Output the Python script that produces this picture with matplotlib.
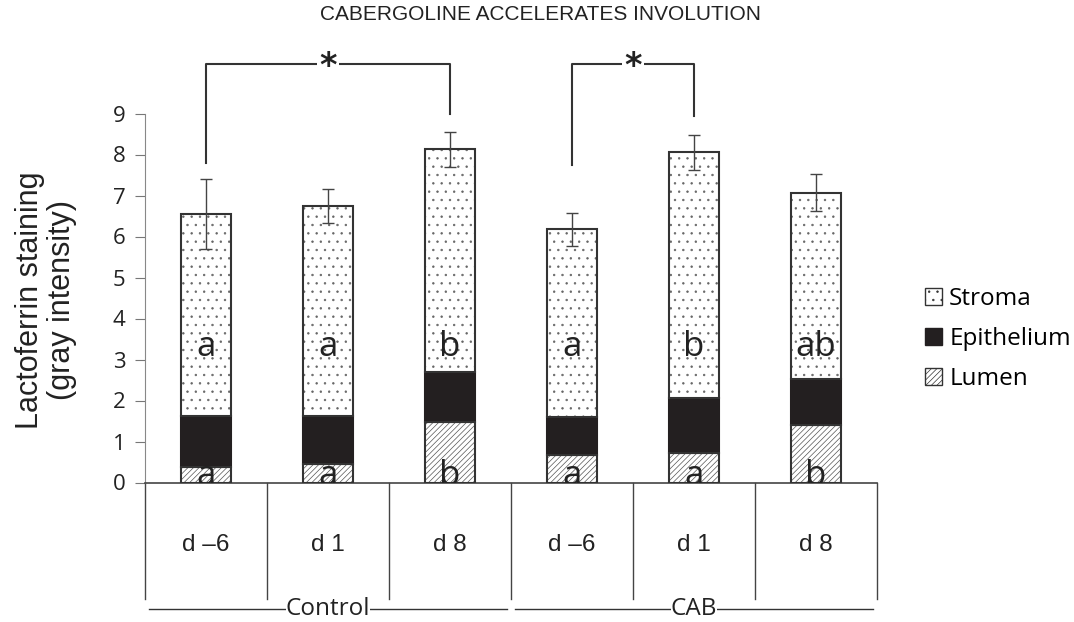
import numpy as np
import matplotlib.pyplot as plt
from matplotlib.patches import Patch

plt.rcParams['hatch.linewidth'] = 0.5

# data
days = ['d \u20136', 'd 1', 'd 8', 'd \u20136', 'd 1', 'd 8']
groups = ['Control', 'CAB']
lumen = [0.37, 0.45, 1.48, 0.67, 0.71, 1.40]
epithelium = [1.26, 1.18, 1.22, 0.93, 1.34, 1.12]
stroma = [4.92, 5.11, 5.43, 4.58, 6.00, 4.55]
sem = [0.85, 0.42, 0.43, 0.40, 0.42, 0.45]
letters_top = ['a', 'a', 'b', 'a', 'b', 'ab']
letters_bottom = ['a', 'a', 'b', 'a', 'a', 'b']
# (left bar, right bar, left drop, right drop)
brackets = [(0, 2, 7.8, 9.0), (3, 4, 7.75, 8.95)]
bracket_top = 10.2

x = np.arange(len(days))
lumen = np.array(lumen)
epithelium = np.array(epithelium)
stroma = np.array(stroma)
total = lumen + epithelium + stroma

fig = plt.figure(figsize=(10.74, 6.22), dpi=100)
ax = fig.add_axes([145 / 1074, 1 - 482.5 / 622, 732 / 1074, 369 / 622])

edge = '#333333'
w = 0.41
ax.bar(x, lumen, w, color='white', edgecolor='#555555', hatch='//////', linewidth=0, zorder=2)
ax.bar(x, lumen, w, color='none', edgecolor=edge, linewidth=1.5, zorder=3)
ax.bar(x, epithelium, w, bottom=lumen, color='#231f20', edgecolor='#231f20', linewidth=1.5, zorder=2)
ax.bar(x, stroma, w, bottom=lumen + epithelium, color='white', edgecolor='#666666',
       hatch='..', linewidth=0, zorder=2)
ax.bar(x, stroma, w, bottom=lumen + epithelium, color='none', edgecolor=edge, linewidth=1.5, zorder=3)
ax.errorbar(x, total, yerr=sem, fmt='none', ecolor='#444444', elinewidth=1, capsize=4.5,
            capthick=1, zorder=4)

for i in range(len(days)):
    ax.text(x[i], 3.08, letters_top[i], ha='center', va='baseline', fontsize=25,
            family='Open Sans', color='#222222', zorder=5)
    ax.text(x[i], -0.05, letters_bottom[i], ha='center', va='baseline', fontsize=25,
            family='Open Sans', color='#222222', zorder=5, clip_on=True)

# significance brackets
for a, b, ya, yb in brackets:
    ax.plot([a, a, b, b], [ya, bracket_top, bracket_top, yb], color='#333333', lw=1.5,
            clip_on=False, zorder=5)
    ax.text((a + b) / 2, bracket_top - 0.05, '*', ha='center', va='center', fontsize=24,
            fontweight='bold', color='#222222', clip_on=False, zorder=6,
            bbox=dict(facecolor='white', edgecolor='none', pad=2))

ax.set_xlim(-0.5, len(days) - 0.5)
ax.set_ylim(0, 9)
ax.set_yticks(range(10))
ax.set_yticklabels([str(v) for v in range(10)], family='Open Sans', fontsize=16,
                   color='#222222')
ax.tick_params(axis='y', length=7, width=0.8, color='#777777', pad=7)
ax.set_xticks([])
for s in ['top', 'right']:
    ax.spines[s].set_visible(False)
ax.spines['left'].set_color('#888888')
ax.spines['left'].set_linewidth(0.8)
ax.spines['bottom'].set_color('#444444')
ax.spines['bottom'].set_linewidth(1.2)

# category table below the axis
for xb in np.arange(len(days) + 1) - 0.5:
    ax.plot([xb, xb], [0, -2.84], color='#444444', lw=1, clip_on=False)
for i, d in enumerate(days):
    ax.text(x[i], -1.52, d, ha='center', va='center', fontsize=17.5,
            family='Liberation Sans', color='#222222')
for g, name in enumerate(groups):
    x0 = g * 3 - 0.5
    ax.plot([x0 + 0.03, x0 + 2.97], [-3.09, -3.09], color='#333333', lw=1, clip_on=False)
    ax.text(x0 + 1.5, -3.09, name, ha='center', va='center', fontsize=17.5,
            family='Open Sans', color='#222222',
            bbox=dict(facecolor='white', edgecolor='none', pad=0))

# legend
handles = [Patch(facecolor='white', edgecolor='#333333', hatch='..', label='Stroma'),
           Patch(facecolor='#231f20', edgecolor='#231f20', label='Epithelium'),
           Patch(facecolor='white', edgecolor='#333333', hatch='//////', label='Lumen')]
fig.legend(handles=handles, loc='center left', bbox_to_anchor=(903 / 1074, 1 - 339 / 622),
           frameon=False, prop={'family': 'Open Sans', 'size': 17.5}, handlelength=0.7,
           handleheight=0.7, handletextpad=0.3, labelspacing=0.65)

fig.text(46 / 1074, 1 - 300 / 622, 'Lactoferrin staining\n(gray intensity)', rotation=90,
         ha='center', va='center', multialignment='center', fontsize=22,
         family='Liberation Sans', color='#222222', linespacing=1.1)
fig.text(541 / 1074, 1 - 15 / 622, 'CABERGOLINE ACCELERATES INVOLUTION', ha='center',
         va='center', fontsize=15, family='Liberation Sans', color='#222222')

fig.savefig('out.png', dpi=100)
